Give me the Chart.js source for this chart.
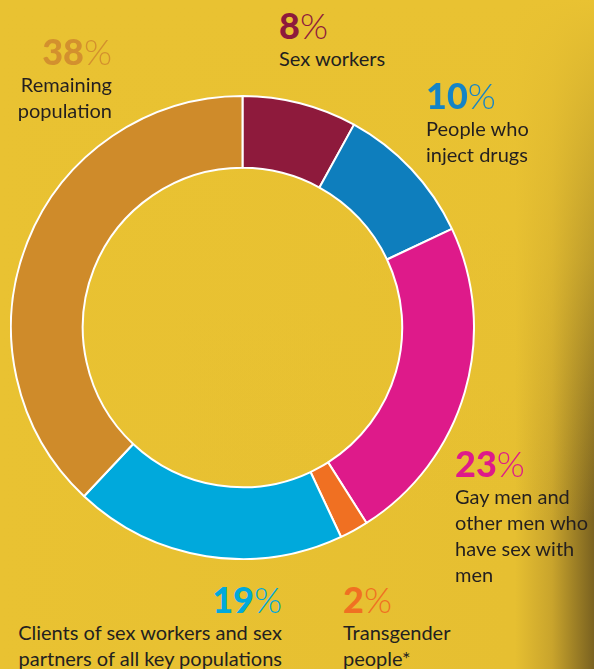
<!DOCTYPE html>
<html>
<head>
<meta charset="utf-8">
<script src="https://cdn.jsdelivr.net/npm/chart.js@4/dist/chart.umd.min.js"></script>
<style>
  html, body { margin: 0; padding: 0; }
  body {
    width: 594px; height: 669px; overflow: hidden; position: relative;
    font-family: Lato, "Noto Sans", sans-serif;
    background:
      linear-gradient(to bottom, rgba(233,194,50,1) 0px, rgba(233,194,50,0.6) 260px, rgba(233,194,50,0) 520px),
      linear-gradient(to right, #E9C232 0px, #E6BF31 515px, #C9A42C 552px, #7A6220 594px);
  }
  #wrap { position: absolute; left: 10px; top: 95px; width: 465px; height: 465px; }
  .lab { position: absolute; color: #231F20; }
  .pct { font-size: 36px; line-height: 36px; white-space: nowrap; }
  .pct b { font-weight: 900; }
  .pct span { font-weight: 300; }
  .txt { font-size: 20px; line-height: 26px; margin-top: 2px; white-space: nowrap; }
</style>
</head>
<body>
<div id="wrap"><canvas id="c"></canvas></div>
<div id="labels"></div>
<script>
// ---- data ----
const categories = [
  "Sex workers",
  "People who inject drugs",
  "Gay men and other men who have sex with men",
  "Transgender people*",
  "Clients of sex workers and sex partners of all key populations",
  "Remaining population"
];
const values = [8, 10, 23, 2, 19, 38];
const labelLines = [
  ["Sex workers"],
  ["People who", "inject drugs"],
  ["Gay men and", "other men who", "have sex with", "men"],
  ["Transgender", "people*"],
  ["Clients of sex workers and sex", "partners of all key populations"],
  ["Remaining", "population"]
];
const sliceColors = ["#8E1A3C", "#0E7EBD", "#DE1A8A", "#F07022", "#00A9DC", "#CF8B2A"];
const pctColors   = ["#8E1A3C", "#1484C6", "#DE1A8A", "#F07022", "#00A9DC", "#D3902E"];

// ---- label layout (positions only) ----
const labelPos = [
  { left: 279, top: 7,   align: "left" },
  { left: 426, top: 77,  align: "left" },
  { left: 455, top: 445, align: "left" },
  { left: 343, top: 581, align: "left" },
  { right: 312, top: 581, align: "right" },
  { right: 482, top: 33, align: "right" }
];

const holder = document.getElementById("labels");
categories.forEach((cat, i) => {
  const p = labelPos[i];
  const d = document.createElement("div");
  d.className = "lab";
  d.style.top = p.top + "px";
  if (p.left !== undefined) d.style.left = p.left + "px";
  if (p.right !== undefined) d.style.right = p.right + "px";
  d.style.textAlign = p.align;
  const pc = document.createElement("div");
  pc.className = "pct";
  pc.style.color = pctColors[i];
  pc.innerHTML = "<b>" + values[i] + "</b><span>%</span>";
  d.appendChild(pc);
  const t = document.createElement("div");
  t.className = "txt";
  t.innerHTML = labelLines[i].join("<br>");
  d.appendChild(t);
  holder.appendChild(d);
});

new Chart(document.getElementById("c"), {
  type: "doughnut",
  data: {
    labels: categories,
    datasets: [{
      data: values,
      backgroundColor: sliceColors,
      borderColor: "#FFFFFF",
      borderWidth: 2
    }]
  },
  options: {
    responsive: true,
    maintainAspectRatio: false,
    animation: false,
    cutout: "69%",
    layout: { padding: 0 },
    plugins: { legend: { display: false }, tooltip: { enabled: false } }
  }
});
</script>
</body>
</html>
